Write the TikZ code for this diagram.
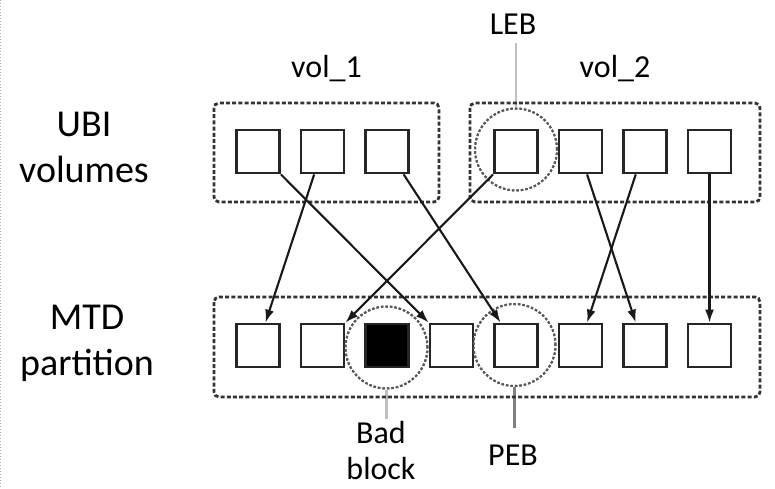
\documentclass[tikz,border=0pt]{standalone}
\usepackage{fontspec}
\setmainfont{Carlito}
\usetikzlibrary{arrows.meta}

\begin{document}
\begin{tikzpicture}[x=1pt, y=-1pt,
    blk/.style={draw=black!85, line width=2.8pt, fill=white, minimum size=43pt, inner sep=0pt},
    badblk/.style={blk, fill=black},
    vbox/.style={draw=black!80, line width=2.8pt, dash pattern=on 4pt off 2.2pt, rounded corners=5pt},
    ring/.style={circle, draw=black!65, line width=2pt, dash pattern=on 2.5pt off 2pt, minimum size=82pt, inner sep=0pt},
    pin/.style={draw=black!25, line width=2.4pt},
    map/.style={-{Latex[length=13pt,width=9pt]}, line width=2.1pt, black!90},
    lbl/.style={font=\fontsize{32}{36}\selectfont, inner sep=0pt, align=center},
    side/.style={font=\fontsize{38}{46}\selectfont, inner sep=0pt, align=center}]

        \useasboundingbox (0,0) rectangle (775,489);
        \draw[black!30, line width=1pt, dotted] (0.5,0) -- (0.5,489);

        % Labels
        \node[side] (ubi) at (84,147) {UBI\\volumes};
        \node[side] (mtd) at (87,343) {MTD\\partition};
        \node[lbl, anchor=base] (vol1) at (326.5,78) {vol\_1};
        \node[lbl, anchor=base] (vol2) at (615,78) {vol\_2};
        \node[lbl, anchor=base] (lebtxt) at (513,35) {LEB};
        \node[lbl, anchor=north] (badtxt) at (381,421) {Bad\\block};
        \node[lbl, anchor=base] (pebtxt) at (513,465) {PEB};

        % Circles
        \node[ring] (leb) at (516,149.5) {};
        \node[ring] (bad) at (386.5,347.5) {};
        \node[ring] (peb) at (514.5,345) {};

        % Pointer lines
        \draw[pin, shorten >=8pt] (leb.north) -- (leb.north |- lebtxt.south);
        \draw[pin, shorten >=2pt] (bad.south) -- (bad.south |- badtxt.north);
        \draw[pin, black!50, shorten >=16pt] (peb.south) -- (peb.south |- pebtxt.north);

        % UBI volumes
        \draw[vbox] (214,103) rectangle (439,202);
        \draw[vbox] (470,103) rectangle (760,202);
        \node[blk] (u1) at (258,151.5) {};
        \node[blk] (u2) at (322.5,151.5) {};
        \node[blk] (u3) at (387,151.5) {};
        \node[blk] (u4) at (516,151.5) {};
        \node[blk] (u5) at (580.5,151.5) {};
        \node[blk] (u6) at (645,151.5) {};
        \node[blk] (u7) at (709.5,151.5) {};

        % MTD partition
        \draw[vbox] (214,297) rectangle (760,397);
        \node[blk] (m1) at (258,345.5) {};
        \node[blk] (m2) at (322.5,345.5) {};
        \node[badblk] (m3) at (387,345.5) {};
        \node[blk] (m4) at (451.5,345.5) {};
        \node[blk] (m5) at (516,345.5) {};
        \node[blk] (m6) at (580.5,345.5) {};
        \node[blk] (m7) at (645,345.5) {};
        \node[blk] (m8) at (709.5,345.5) {};

        % Circles drawn again on top of the blocks
        \draw[ring] (leb) circle (41pt);
        \draw[ring] (bad) circle (41pt);
        \draw[ring] (peb) circle (41pt);

        % Mapping LEB -> PEB
        \draw[map] (u1.south east) -- (m4.north west);
        \draw[map] (u2.-110) -- (m1.72);
        \draw[map] (u3.-54) -- (m5.124);
        \draw[map] (u4.south west) -- (m2.north east);
        \draw[map] (u5.-74) -- (m7.112);
        \draw[map] (u6.-112) -- (m6.74);
        \draw[map] (u7) -- (m8);

    \end{tikzpicture}
\end{document}
